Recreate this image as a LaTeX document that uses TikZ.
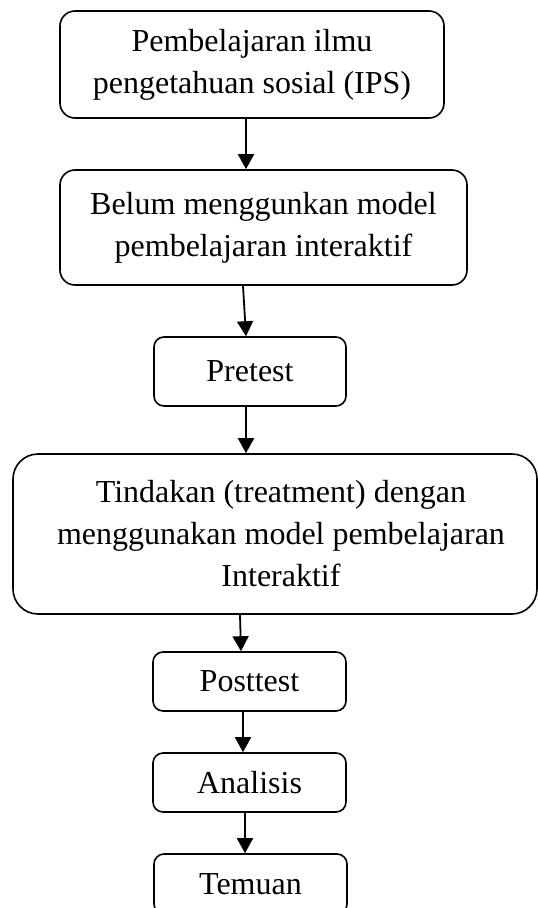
\documentclass[tikz,border=0pt]{standalone}
\usepackage{fontspec}
\setmainfont{Liberation Serif}
\usetikzlibrary{arrows.meta}
\begin{document}
\begin{tikzpicture}[x=1pt,y=-1pt,
  box/.style={draw, line width=1.6pt, align=center, inner sep=0pt,
    font=\fontsize{32}{42}\selectfont, text=black},
  arr/.style={line width=1.8pt, -{Triangle[width=16pt,length=15pt]}}]
\useasboundingbox (0,0) rectangle (538,908);
\node[box, rounded corners=15pt, minimum width=384pt, minimum height=107pt] (b1) at (252,64.5)
  {Pembelajaran ilmu\\pengetahuan sosial (IPS)};
\node[box, rounded corners=15pt, minimum width=407pt, minimum height=115pt] (b2) at (263.5,227.5)
  {Belum menggunkan model\\pembelajaran interaktif};
\node[box, rounded corners=10pt, minimum width=192pt, minimum height=69pt] (b3) at (250,371.5)
  {Pretest};
\node[box, rounded corners=25pt, minimum width=524pt, minimum height=160pt] (b4) at (275,534)
  {\hspace*{12pt}Tindakan (treatment) dengan\\\hspace*{12pt}menggunakan model pembelajaran\\\hspace*{12pt}Interaktif};
\node[box, rounded corners=10pt, minimum width=193pt, minimum height=59pt] (b5) at (249.5,681.5)
  {Posttest};
\node[box, rounded corners=10pt, minimum width=193pt, minimum height=59pt] (b6) at (249.5,782.5)
  {Analisis};
\node[box, rounded corners=10pt, minimum width=193pt, minimum height=60pt] (b7) at (250.5,884)
  {Temuan};
\draw[arr] ([xshift=-6pt]b1.south) -- ([xshift=-17.5pt]b2.north);
\draw[arr] ([xshift=-20.5pt]b2.south) -- ([xshift=-4pt]b3.north);
\draw[arr] ([xshift=-4pt]b3.south) -- ([xshift=-29pt]b4.north);
\draw[arr] ([xshift=-35pt]b4.south) -- ([xshift=-8.5pt]b5.north);
\draw[arr] ([xshift=-6.5pt]b5.south) -- ([xshift=-6.5pt]b6.north);
\draw[arr] ([xshift=-4.5pt]b6.south) -- ([xshift=-5.5pt]b7.north);
\end{tikzpicture}
\end{document}
